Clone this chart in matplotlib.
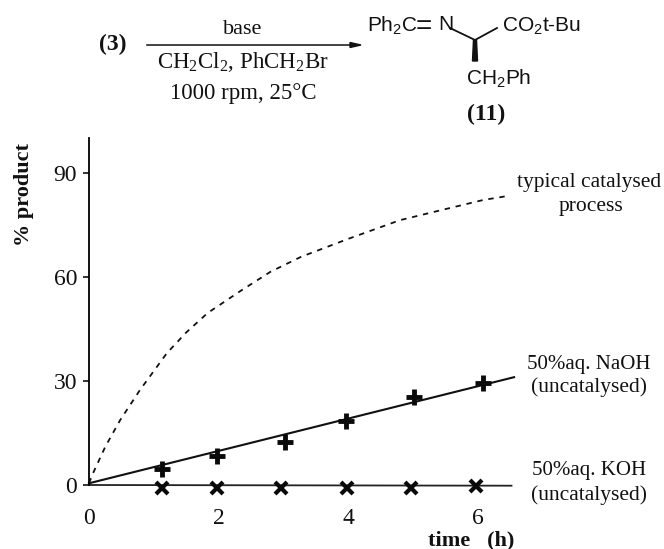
import matplotlib
matplotlib.use("Agg")
import matplotlib.pyplot as plt
from matplotlib.lines import Line2D
from matplotlib.patches import Polygon

W, H = 664, 549
SERIF = "Liberation Serif"
SANS = "Liberation Sans"
plt.rcParams["font.family"] = SERIF
plt.rcParams["mathtext.default"] = "regular"

# data
curve_x = [0, 0.05, 0.25, 0.48, 0.79, 0.9, 1.2, 1.5, 1.83, 2.34, 2.8, 3.27, 4.0, 4.8, 5.57, 6.08, 6.47]
curve_y = [0.5, 2.9, 11, 18.7, 27.5, 30.3, 38, 44, 49.6, 56, 61.5, 65.8, 71, 76.4, 79.9, 82.2, 83.4]
naoh_line_x = [0, 6.56]
naoh_line_y = [0.5, 31.1]
koh_line_x = [0, 6.52]
koh_line_y = [0, -0.2]
naoh_x = [1.12, 1.98, 3.02, 3.97, 5.02, 6.08]
naoh_y = [4.7, 8.4, 12.5, 18.5, 25.4, 29.3]
koh_x = [1.12, 1.97, 2.97, 3.98, 4.97, 5.97]
koh_y = [-1.0, -0.9, -0.9, -0.9, -0.9, -0.4]
x_ticks = [0, 2, 4, 6]
y_ticks = [0, 30, 60, 90]

fig = plt.figure(figsize=(W / 100, H / 100), dpi=100)

def fx(px):
    return px / W

def fy(py):
    return 1 - py / H

X0, X1 = 89, 512
Y_ZERO, Y_BOTTOM, Y_TOP = 485, 505, 138
PXY = (485 - 173) / 90
ax = fig.add_axes([fx(X0), fy(Y_BOTTOM), (X1 - X0) / W, (Y_BOTTOM - Y_TOP) / H])
ax.set_xlim(0, (X1 - X0) / 64.8)
ax.set_ylim(-(Y_BOTTOM - Y_ZERO) / PXY, (Y_ZERO - Y_TOP) / PXY)
ax.patch.set_alpha(0)

ax.plot(curve_x, curve_y, color="#111111", lw=1.3, dashes=(3.0, 3.2), clip_on=False)
ax.plot(naoh_line_x, naoh_line_y, color="#111111", lw=1.5, clip_on=False)
ax.plot(koh_line_x, koh_line_y, color="#222222", lw=1.3, clip_on=False)
ax.plot(naoh_x, naoh_y, ls="none", marker="+", ms=11, mew=3.5, color="#0a0a0a", clip_on=False)
ax.plot(koh_x, koh_y, ls="none", marker="x", ms=8.5, mew=3.0, color="#0a0a0a", clip_on=False)

for s in ["top", "right", "bottom"]:
    ax.spines[s].set_visible(False)
ax.spines["left"].set_bounds(0, (Y_ZERO - Y_TOP) / PXY)
ax.spines["left"].set_linewidth(1.3)
ax.set_xticks(x_ticks)
ax.set_yticks(y_ticks)
ax.tick_params(axis="x", length=0, labelsize=17, pad=2, colors="#111111")
ax.tick_params(axis="y", length=4, width=1.2, labelsize=17, pad=4.5, colors="#111111")

def t(px, py, s, size=15, ha="center", family=SERIF, weight="normal", rot=0):
    fig.text(fx(px), fy(py), s, fontsize=size, ha=ha, va="center", family=family,
             weight=weight, rotation=rot, color="#111111")

t(24, 195, "% product", size=16, weight="bold", rot=90)
t(428, 540, "time   (h)", size=16, weight="bold", ha="left")

t(589, 183, "typical catalysed", 15.5)
t(591, 206, "process", 15.5)
t(589, 364, "50%aq. NaOH", 15)
t(589, 387, "(uncatalysed)", 15.5)
t(589, 471, "50%aq. KOH", 15)
t(589, 495, "(uncatalysed)", 15.5)

# reaction scheme
t(113, 44, "(3)", 17, weight="bold")
t(243, 29, "base", 16)
t(243, 62, "CH$_2$Cl$_2$, PhCH$_2$Br", 16.5)
t(243.5, 94, "1000 rpm, 25°C", 16.5)
t(367, 26, "Ph$_2$C", 15, ha="left", family=SANS)
t(424, 27, "=", 20, family=SANS)
t(445.5, 25, "N", 15, family=SANS)
t(502, 26, "CO$_2$t-Bu", 15, ha="left", family=SANS)
t(499, 79, "CH$_2$Ph", 15, family=SANS)
t(486.5, 114, "(11)", 17, weight="bold")

def seg(a, b, lw=1.3):
    fig.add_artist(Line2D([fx(a[0]), fx(b[0])], [fy(a[1]), fy(b[1])],
                          transform=fig.transFigure, color="#111111", lw=lw))

seg((147, 45), (352, 45), 1.1)
fig.add_artist(Polygon([[fx(361), fy(45)], [fx(350), fy(42.5)], [fx(350), fy(47.5)]],
                       closed=True, transform=fig.transFigure, color="#111111"))
seg((450, 28), (475, 40))
seg((475, 40), (497, 28))
fig.add_artist(Polygon([[fx(473.5), fy(40)], [fx(476.5), fy(40)], [fx(477.5), fy(61)], [fx(472.5), fy(61)]],
                       closed=True, transform=fig.transFigure, color="#111111"))

fig.savefig("out.png", dpi=100, facecolor="white")
